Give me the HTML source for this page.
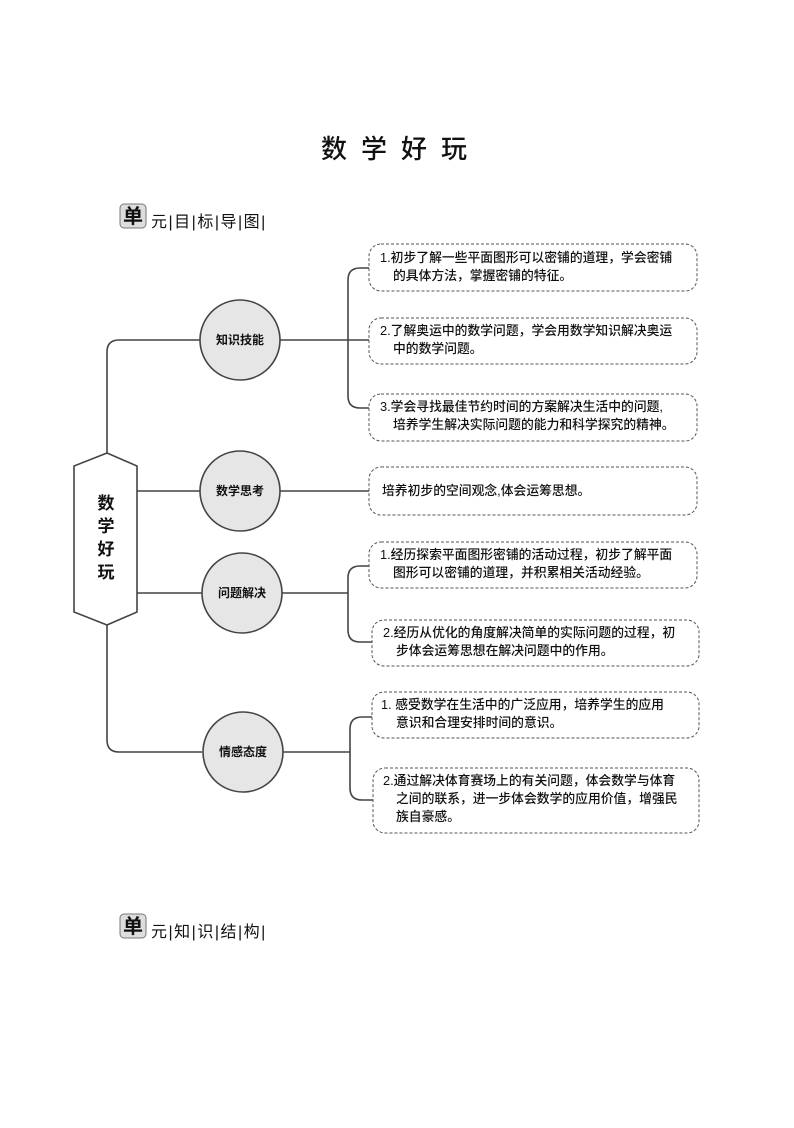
<!DOCTYPE html>
<html><head><meta charset="utf-8"><style>
body{margin:0;background:#fff;}
svg text{font-family:"Liberation Sans","Noto Sans CJK SC",sans-serif;fill:#111;}
</style></head><body>
<svg width="794" height="1123" viewBox="0 0 794 1123" xmlns="http://www.w3.org/2000/svg">
<text x="401" y="158" font-size="26" text-anchor="middle" letter-spacing="14" font-weight="500">数学好玩</text>

<rect x="120" y="204" width="26" height="24" rx="4" fill="#ddd" stroke="#777" stroke-width="1"/>
<text x="133" y="223" font-size="20" font-weight="bold" text-anchor="middle">单</text>
<text x="151" y="227" font-size="16" letter-spacing="1.5">元|目|标|导|图|</text>
<rect x="120" y="914" width="26" height="24" rx="4" fill="#ddd" stroke="#777" stroke-width="1"/>
<text x="133" y="933" font-size="20" font-weight="bold" text-anchor="middle">单</text>
<text x="151" y="937" font-size="16" letter-spacing="1.5">元|知|识|结|构|</text>

<g stroke="#444" stroke-width="1.6" fill="none">
<path d="M107 453 V352 Q107 340 119 340 H200"/>
<path d="M107 625 V740 Q107 752 119 752 H202"/>
<path d="M137 491 H200"/>
<path d="M137 593 H202"/>
<path d="M280 340 H370"/>
<path d="M370 268 H360 Q348 268 348 280 V396 Q348 408 360 408 H370"/>
<path d="M280 491 H370"/>
<path d="M282 593 H348"/>
<path d="M370 566 H360 Q348 566 348 578 V630 Q348 642 360 642 H372"/>
<path d="M282 752 H350"/>
<path d="M372 717 H362 Q350 717 350 729 V788 Q350 800 362 800 H373"/>
</g>

<polygon points="107,453 137,466 137,612 107,625 74,612 74,466" fill="#fff" stroke="#444" stroke-width="1.6"/>
<g font-size="17" font-weight="bold" text-anchor="middle">
<text x="106" y="509">数</text><text x="106" y="532">学</text><text x="106" y="555">好</text><text x="106" y="578">玩</text>
</g>

<g fill="#e6e6e6" stroke="#444" stroke-width="1.6">
<circle cx="240" cy="340" r="40"/>
<circle cx="240" cy="491" r="40"/>
<circle cx="242" cy="593" r="40"/>
<circle cx="243" cy="752" r="40"/>
</g>
<g font-size="12" font-weight="bold" text-anchor="middle">
<text x="240" y="344">知识技能</text>
<text x="240" y="495">数学思考</text>
<text x="242" y="597">问题解决</text>
<text x="243" y="756">情感态度</text>
</g>

<g fill="#fff" stroke="#555" stroke-width="1" stroke-dasharray="3,2">
<rect x="369" y="244" width="328" height="47" rx="12"/>
<rect x="369" y="318" width="328" height="46" rx="12"/>
<rect x="369" y="394" width="328" height="47" rx="12"/>
<rect x="369" y="467" width="328" height="48" rx="12"/>
<rect x="369" y="542" width="328" height="46" rx="12"/>
<rect x="372" y="620" width="327" height="46" rx="12"/>
<rect x="372" y="692" width="327" height="46" rx="12"/>
<rect x="373" y="768" width="326" height="65" rx="12"/>
</g>
<g font-size="12.8" font-weight="500">
<text x="380" y="262">1.初步了解一些平面图形可以密铺的道理，学会密铺</text>
<text x="393" y="280">的具体方法，掌握密铺的特征。</text>
<text x="380" y="335">2.了解奥运中的数学问题，学会用数学知识解决奥运</text>
<text x="393" y="353">中的数学问题。</text>
<text x="380" y="411">3.学会寻找最佳节约时间的方案解决生活中的问题,</text>
<text x="393" y="429">培养学生解决实际问题的能力和科学探究的精神。</text>
<text x="382" y="495">培养初步的空间观念,体会运筹思想。</text>
<text x="380" y="559">1.经历探索平面图形密铺的活动过程，初步了解平面</text>
<text x="393" y="577">图形可以密铺的道理，并积累相关活动经验。</text>
<text x="383" y="637">2.经历从优化的角度解决简单的实际问题的过程，初</text>
<text x="396" y="655">步体会运筹思想在解决问题中的作用。</text>
<text x="381" y="709">1. 感受数学在生活中的广泛应用，培养学生的应用</text>
<text x="396" y="727">意识和合理安排时间的意识。</text>
<text x="383" y="785">2.通过解决体育赛场上的有关问题，体会数学与体育</text>
<text x="396" y="803">之间的联系，进一步体会数学的应用价值，增强民</text>
<text x="396" y="821">族自豪感。</text>
</g>
</svg>
</body></html>
